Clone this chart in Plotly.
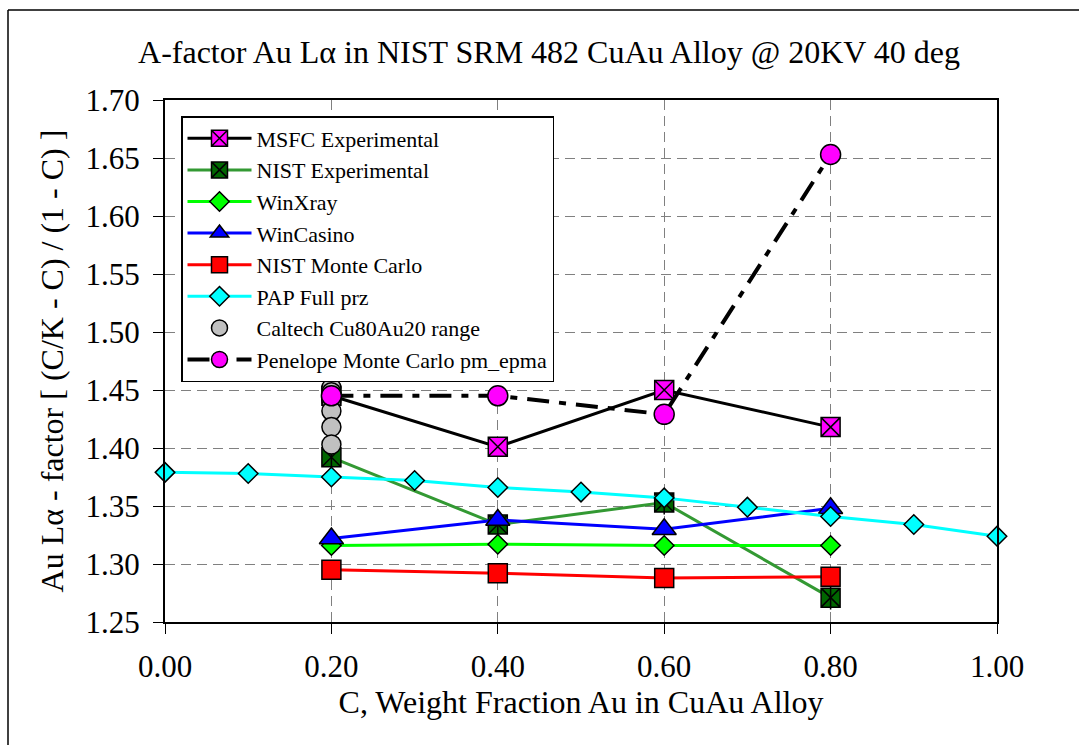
import plotly.graph_objects as go

# ---- data ----
x_alloy = [0.2, 0.4, 0.6, 0.8]
msfc_exp = [1.445, 1.401, 1.450, 1.418]
nist_exp = [1.392, 1.334, 1.353, 1.271]
winxray = [1.316, 1.317, 1.316, 1.316]
wincasino = [1.322, 1.338, 1.330, 1.348]
nist_mc = [1.295, 1.292, 1.288, 1.289]
pap_x = [0.0, 0.1, 0.2, 0.3, 0.4, 0.5, 0.6, 0.7, 0.8, 0.9, 1.0]
pap_full = [1.379, 1.378, 1.375, 1.372, 1.366, 1.362, 1.357, 1.349, 1.341, 1.334, 1.324]
caltech_x = [0.2, 0.2, 0.2, 0.2, 0.2, 0.2]
caltech = [1.452, 1.448, 1.441, 1.432, 1.418, 1.403]
penelope = [1.445, 1.445, 1.429, 1.653]

FONT = "Liberation Serif"

W, H = 1079, 745
L, T = 165, 100
PW, PH = 832, 522

fig = go.Figure()

def add(name, x, y, color, symbol, fill, size, width=3, dash="solid",
        mode="lines+markers", showlegend=True, group=None):
    fig.add_trace(go.Scatter(
        x=x, y=y, name=name, mode=mode, cliponaxis=False,
        showlegend=showlegend, legendgroup=group or name,
        line=dict(color=color, width=width, dash=dash),
        marker=dict(symbol=symbol, size=size, color=fill,
                    line=dict(color="black", width=1.5)),
    ))

add("MSFC Experimental", x_alloy, msfc_exp, "black", "square-x", "#ff00ff", 19)
add("NIST Experimental", x_alloy, nist_exp, "#339933", "square-x", "#006600", 19)
# vertical stroke completing the asterisk on the NIST Experimental markers
add("NIST Experimental", x_alloy, nist_exp, "black", "line-ns-open", "black", 17,
    mode="markers", showlegend=False, group="NIST Experimental")
add("WinXray", x_alloy, winxray, "#00ff00", "diamond", "#00ff00", 15)
add("WinCasino", x_alloy, wincasino, "#0000ff", "triangle-up", "#0000ff", 21)
add("NIST Monte Carlo", x_alloy, nist_mc, "#ff0000", "square", "#ff0000", 19)
add("PAP Full prz", pap_x, pap_full, "#00ffff", "diamond", "#00ffff", 15)
add("Caltech Cu80Au20 range", caltech_x, caltech, "black", "circle", "#c0c0c0", 19, mode="markers")
add("Penelope Monte Carlo pm_epma", x_alloy, penelope, "black", "circle", "#ff00ff", 20,
    width=4, dash="22px,10px,7px,10px")

axis_common = dict(
    showline=True, linecolor="black", linewidth=2, mirror=True,
    ticks="outside", ticklen=10, tickwidth=1, tickcolor="black",
    showgrid=True, gridcolor="#808080", gridwidth=1, griddash="10px,6px",
    zeroline=False, tickfont=dict(family=FONT, size=31, color="black"),
)

fig.update_xaxes(range=[0, 1], dtick=0.2, tick0=0, tickformat=".2f",
                 ticklabelstandoff=6,
                 title=dict(text="C, Weight Fraction Au in CuAu Alloy",
                            font=dict(family=FONT, size=32, color="black"), standoff=4),
                 **axis_common)
fig.update_yaxes(range=[1.25, 1.70], dtick=0.05, tick0=1.25, tickformat=".2f",
                 ticklabelstandoff=7,
                 title=dict(text="Au Lα - factor [ (C/K - C) / (1 - C) ]",
                            font=dict(family=FONT, size=32, color="black"), standoff=12),
                 **axis_common)

# outer chart frame: left and top edges (x=8, y=10); right/bottom lie off-page
frame_x = (8 - L) / PW
frame_top = (T + PH - 10) / PH
frame_bottom = (T + PH - H - 5) / PH
frame_right = (W + 5 - L) / PW
fig.add_shape(type="line", xref="paper", yref="paper",
              x0=frame_x, x1=frame_x, y0=frame_bottom, y1=frame_top,
              line=dict(color="black", width=1.5), layer="below")
fig.add_shape(type="line", xref="paper", yref="paper",
              x0=frame_x, x1=frame_right, y0=frame_top, y1=frame_top,
              line=dict(color="black", width=1.5), layer="below")

fig.update_layout(
    width=W, height=H,
    margin=dict(l=L, r=W - L - PW, t=T, b=H - T - PH),
    paper_bgcolor="white", plot_bgcolor="white",
    title=dict(text="A-factor Au Lα in NIST SRM 482 CuAu Alloy @ 20KV 40 deg",
               font=dict(family=FONT, size=32, color="black"),
               x=549 / W, xanchor="center", y=1 - 52 / H, yanchor="middle"),
    legend=dict(x=(181 - 165) / PW, y=(622 - 116) / PH, xanchor="left", yanchor="top",
                bgcolor="white", bordercolor="black", borderwidth=1.5,
                font=dict(family=FONT, size=22, color="black"),
                itemwidth=64, tracegroupgap=0),
    showlegend=True,
)

fig.write_html(
    "out.html",
    config={"displayModeBar": False},
    post_script="document.body.style.margin='0';document.body.style.overflow='hidden';",
)
